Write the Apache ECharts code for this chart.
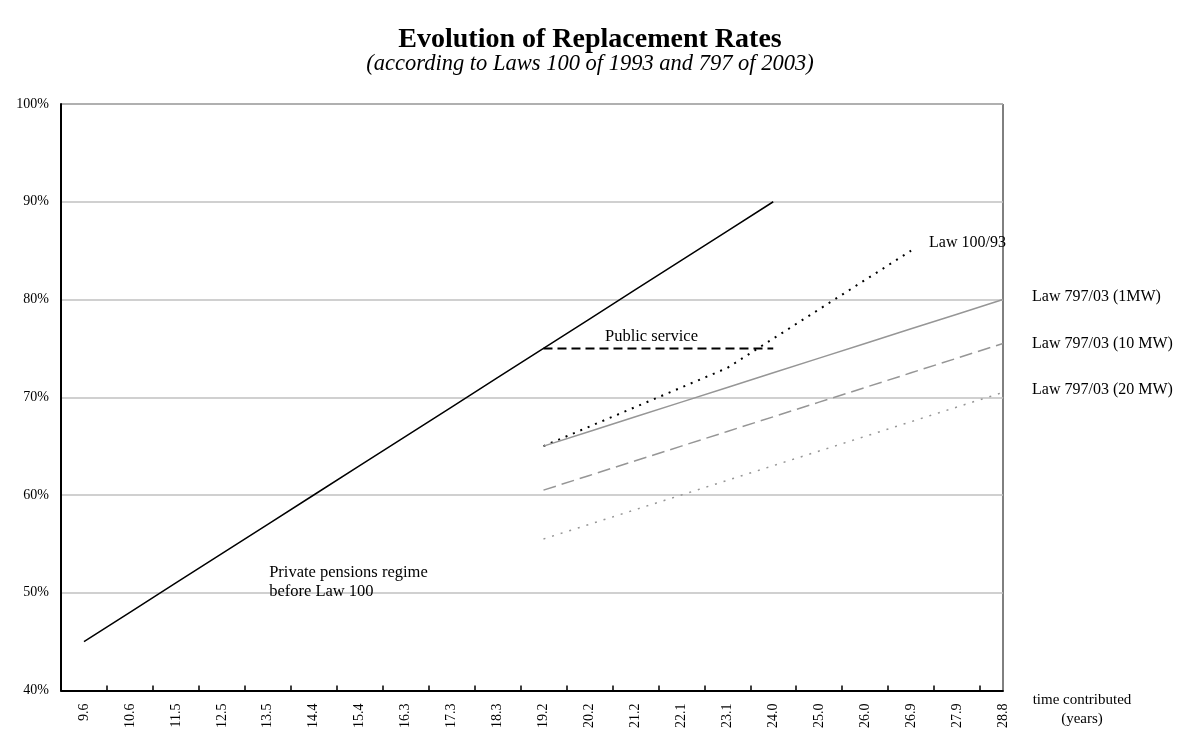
<!DOCTYPE html>
<html>
<head>
<meta charset="utf-8">
<script src="https://cdn.jsdelivr.net/npm/echarts@6/dist/echarts.min.js"></script>
<style>html,body{margin:0;padding:0;background:#fff}#c{width:1180px;height:731px}</style>
</head>
<body>
<div id="c"></div>
<script>
// Category tick labels (time contributed, years)
var xLabels = ['9.6','10.6','11.5','12.5','13.5','14.4','15.4','16.3','17.3','18.3','19.2','20.2','21.2','22.1','23.1','24.0','25.0','26.0','26.9','27.9','28.8'];
// Series values (%), one per category, null where absent
var privateRegime = [45,48,51,54,57,60,63,66,69,72,75,78,81,84,87,90,null,null,null,null,null];
var publicService = [null,null,null,null,null,null,null,null,null,null,75,75,75,75,75,75,null,null,null,null,null];
var law100 = [null,null,null,null,null,null,null,null,null,null,65,67,69,71,73,76,79,82,85,null,null];
var law797_1 = [null,null,null,null,null,null,null,null,null,null,65,66.5,68,69.5,71,72.5,74,75.5,77,78.5,80];
var law797_10 = [null,null,null,null,null,null,null,null,null,null,60.5,62,63.5,65,66.5,68,69.5,71,72.5,74,75.5];
var law797_20 = [null,null,null,null,null,null,null,null,null,null,55.5,57,58.5,60,61.5,63,64.5,66,67.5,69,70.5];
var yTicks = [40,50,60,70,80,90,100];

var FONT = 'Liberation Serif';
function pairs(arr){var o=[];arr.forEach(function(v,i){if(v!==null)o.push([i,v]);});return o;}
var labelIdx = xLabels.map(function(_,i){return i;});
var tickIdx = xLabels.slice(1).map(function(_,i){return i+0.5;});

var chart = echarts.init(document.getElementById('c'));
function lineSeries(name, arr, color, width, type, endLabel){
  var s = {name:name, type:'line', data:pairs(arr), symbol:'none', animation:false,
    lineStyle:{color:color, width:width, type:type}, z:3};
  if(endLabel){
    s.endLabel = Object.assign({show:true, formatter:name, color:'#000', fontFamily:FONT, fontSize:16}, endLabel);
  }
  return s;
}
var series = [
  lineSeries('Private pensions regime', privateRegime, '#000', 1.5, 'solid'),
  lineSeries('Public service', publicService, '#000', 2, [9,5]),
  lineSeries('Law 100/93', law100, '#000', 2, [2,6], {distance:18, offset:[0,-8]}),
  lineSeries('Law 797/03 (1MW)', law797_1, '#969696', 1.5, 'solid', {distance:29, offset:[0,-3]}),
  lineSeries('Law 797/03 (10 MW)', law797_10, '#969696', 1.5, [13,6], {distance:29, offset:[0,0]}),
  lineSeries('Law 797/03 (20 MW)', law797_20, '#969696', 1.5, [2,7], {distance:29, offset:[0,-3]})
];
series[1].markPoint = {symbol:'circle', symbolSize:0, animation:false,
  label:{show:true, position:'inside', color:'#000', fontFamily:FONT, fontSize:16.5},
  data:[{coord:[12.35,76.2], value:'Public service', label:{formatter:'Public service'}}]};
series[0].markPoint = {symbol:'circle', symbolSize:0, animation:false,
  label:{show:true, position:'inside', align:'left', verticalAlign:'middle', lineHeight:19, color:'#000', fontFamily:FONT, fontSize:16.5},
  data:[{coord:[4.03,51.1], value:0, label:{formatter:'Private pensions regime\nbefore Law 100'}}]};

chart.setOption({
  backgroundColor:'#fff',
  animation:false,
  title:{text:'Evolution of Replacement Rates', subtext:'(according to Laws 100 of 1993 and 797 of 2003)',
    left:'center', top:21, itemGap:-1,
    textStyle:{fontFamily:FONT, fontSize:28, fontWeight:'bold', color:'#000'},
    subtextStyle:{fontFamily:FONT, fontSize:22.5, fontStyle:'italic', color:'#000'}},
  grid:{left:61, right:177, top:104, bottom:39, show:true, borderColor:'#000', borderWidth:1, containLabel:false},
  xAxis:{type:'value', min:-0.5, max:20,
    axisLine:{show:true, onZero:false, lineStyle:{color:'#000', width:2}},
    axisTick:{show:true, inside:true, length:5, customValues:tickIdx, lineStyle:{color:'#000', width:1.5}},
    axisLabel:{customValues:labelIdx, rotate:90, margin:13, color:'#000', fontFamily:FONT, fontSize:14,
      formatter:function(v){return xLabels[Math.round(v)];}},
    splitLine:{show:false}},
  yAxis:{type:'value', min:yTicks[0], max:yTicks[yTicks.length-1], interval:10,
    axisLine:{show:true, onZero:false, lineStyle:{color:'#000', width:2}},
    axisTick:{show:false},
    axisLabel:{formatter:'{value}%', margin:12, color:'#000', fontFamily:FONT, fontSize:14},
    splitLine:{show:true, lineStyle:{color:'#c0c0c0', width:1.5}}},
  graphic:[{type:'text', x:1082, y:691, style:{text:'time contributed\n(years)', textAlign:'center', lineHeight:19,
    fontFamily:FONT, fontSize:15, fill:'#000'}}],
  series:series
});
</script>
</body>
</html>
